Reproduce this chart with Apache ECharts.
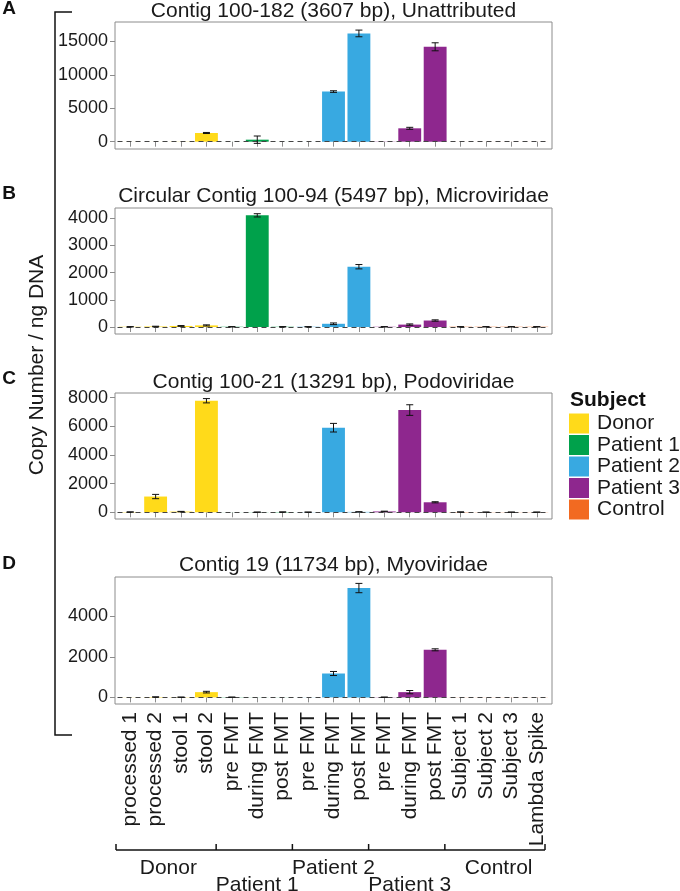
<!DOCTYPE html>
<html><head><meta charset="utf-8">
<script src="https://cdn.jsdelivr.net/npm/echarts@6/dist/echarts.min.js"></script>
<style>html,body{margin:0;padding:0;background:#fff}#c{width:680px;height:891px}</style>
</head><body><div id="c"></div>
<script>
// ---------- DATA ----------
const categories = ['processed 1','processed 2','stool 1','stool 2','pre FMT','during FMT','post FMT','pre FMT','during FMT','post FMT','pre FMT','during FMT','post FMT','Subject 1','Subject 2','Subject 3','Lambda Spike'];
const catGroup = ['Donor','Donor','Donor','Donor','Patient 1','Patient 1','Patient 1','Patient 2','Patient 2','Patient 2','Patient 3','Patient 3','Patient 3','Control','Control','Control','Control'];
const groups = ['Donor','Patient 1','Patient 2','Patient 3','Control'];
const panelTitles = ['Contig 100-182 (3607 bp), Unattributed','Circular Contig 100-94 (5497 bp), Microviridae','Contig 100-21 (13291 bp), Podoviridae','Contig 19 (11734 bp), Myoviridae'];
const panelLetters = ['A','B','C','D'];

const valuesA = [5, 5, 20, 1300, 5, 300, 5, 5, 7500, 16200, 30, 2000, 14200, 5, 5, 5, 5];
const errorsA = [0, 0, 0, 80, 0, 550, 0, 0, 120, 500, 0, 150, 600, 0, 0, 0, 0];
const valuesB = [10, 20, 40, 60, 10, 4110, 10, 10, 120, 2220, 10, 90, 240, 10, 10, 10, 10];
const errorsB = [5, 10, 15, 20, 5, 60, 5, 5, 30, 80, 5, 25, 25, 5, 5, 5, 5];
const valuesC = [20, 1100, 50, 7780, 5, 10, 20, 10, 5900, 30, 60, 7130, 700, 20, 10, 10, 10];
const errorsC = [10, 150, 15, 150, 0, 5, 5, 5, 300, 10, 20, 370, 40, 5, 5, 5, 5];
const valuesD = [5, 20, 10, 260, 10, 5, 5, 5, 1180, 5400, 10, 260, 2350, 5, 5, 5, 5];
const errorsD = [0, 5, 5, 40, 5, 0, 0, 0, 100, 230, 5, 80, 50, 0, 0, 0, 0];

const yTicksA = [0, 5000, 10000, 15000];
const yTicksB = [0, 1000, 2000, 3000, 4000];
const yTicksC = [0, 2000, 4000, 6000, 8000];
const yTicksD = [0, 2000, 4000];
const yRangeA = [-1095, 17910];
const yRangeB = [-256, 4380];
const yRangeC = [-466, 8320];
const yRangeD = [-326, 5946];

const groupSpans = [['Donor', 0, 3], ['Patient 1', 4, 6], ['Patient 2', 7, 9], ['Patient 3', 10, 12], ['Control', 13, 16]];
const yAxisTitle = 'Copy Number / ng DNA';
const legendTitle = 'Subject';

// ---------- STYLE / LAYOUT ----------
const groupColors = {'Donor':'#FFDA1A','Patient 1':'#00A14B','Patient 2':'#38A9E1','Patient 3':'#8E278E','Control':'#F26A21'};
const FONT = '"Liberation Sans", Arial, Helvetica, sans-serif';
const panelValues = [valuesA, valuesB, valuesC, valuesD];
const panelErrors = [errorsA, errorsB, errorsC, errorsD];
const panelTicks = [yTicksA, yTicksB, yTicksC, yTicksD];
const panelRanges = [yRangeA, yRangeB, yRangeC, yRangeD];
const gridTops = [22, 208, 393, 577];
const gridHeights = [127, 126, 126, 127];
const boxLeft = 115, boxWidth = 437;
const gridLeft = 117.5, gridWidth = 432;
const titleY = [11, 196, 382, 565];
const letterY = [8.5, 194, 379, 564];

const grids = [], xAxes = [], yAxes = [], series = [], graphics = [];

function errRender(params, api) {
  const i = api.value(0), v = api.value(1), e = api.value(2);
  if (!(e > 0)) return;
  const top = api.coord([i, v + e]), bot = api.coord([i, v - e]);
  const w = 3.5;
  const st = {stroke: '#111', lineWidth: 1};
  return {type: 'group', children: [
    {type: 'line', shape: {x1: top[0], y1: top[1], x2: bot[0], y2: bot[1]}, style: st},
    {type: 'line', shape: {x1: top[0] - w, y1: top[1], x2: top[0] + w, y2: top[1]}, style: st},
    {type: 'line', shape: {x1: bot[0] - w, y1: bot[1], x2: bot[0] + w, y2: bot[1]}, style: st}
  ]};
}

for (let p = 0; p < 4; p++) {
  const last = p === 3;
  grids.push({left: gridLeft, width: gridWidth, top: gridTops[p], height: gridHeights[p], show: false});
  xAxes.push({
    type: 'category', gridIndex: p, data: categories,
    axisLine: {show: false},
    axisTick: {show: true, alignWithLabel: true, length: 5, lineStyle: {color: '#8c8c8c'}},
    axisLabel: {show: last, rotate: 90, interval: 0, margin: 8, fontSize: 21, color: '#1a1a1a', fontFamily: FONT},
    splitLine: {show: false}
  });
  yAxes.push({
    type: 'value', gridIndex: p, min: panelRanges[p][0], max: panelRanges[p][1], offset: 2.5,
    axisLine: {show: false},
    axisTick: {show: true, length: 5, lineStyle: {color: '#8c8c8c'}, customValues: panelTicks[p]},
    axisLabel: {show: true, margin: 7, fontSize: 18, color: '#1a1a1a', fontFamily: FONT, customValues: panelTicks[p], formatter: v => String(v)},
    splitLine: {show: false}
  });
  groups.forEach((g, gi) => {
    const s = {
      type: 'bar', name: g, xAxisIndex: p, yAxisIndex: p,
      data: panelValues[p].map((v, i) => catGroup[i] === g ? v : '-'),
      barWidth: '90%', barGap: '-100%',
      itemStyle: {color: groupColors[g]},
      emphasis: {disabled: true}
    };
    if (gi === 0) {
      s.markLine = {silent: true, symbol: 'none', label: {show: false}, animation: false,
        lineStyle: {color: '#444', width: 1, type: [5, 4]}, data: [{yAxis: 0}]};
    }
    series.push(s);
  });
  series.push({
    type: 'custom', xAxisIndex: p, yAxisIndex: p, z: 5, clip: false,
    renderItem: errRender,
    data: panelValues[p].map((v, i) => [i, v, panelErrors[p][i]])
  });
  graphics.push({type: 'rect', silent: true, z: 10,
    shape: {x: boxLeft, y: gridTops[p], width: boxWidth, height: gridHeights[p]},
    style: {fill: 'none', stroke: '#8c8c8c', lineWidth: 1}});
  graphics.push({type: 'text', silent: true, x: boxLeft + boxWidth / 2, y: titleY[p],
    style: {text: panelTitles[p], font: '21px ' + FONT, fill: '#1a1a1a', textAlign: 'center', textVerticalAlign: 'middle'}});
  graphics.push({type: 'text', silent: true, x: 9, y: letterY[p],
    style: {text: panelLetters[p], font: 'bold 19px ' + FONT, fill: '#111', textAlign: 'center', textVerticalAlign: 'middle'}});
}

// y-axis title and bracket
graphics.push({type: 'text', silent: true, x: 37, y: 365, rotation: Math.PI / 2,
  style: {text: yAxisTitle, font: '21px ' + FONT, fill: '#1a1a1a', textAlign: 'center', textVerticalAlign: 'middle'}});
graphics.push({type: 'polyline', silent: true, shape: {points: [[72, 12], [55, 12], [55, 735], [72, 735]]},
  style: {stroke: '#111', lineWidth: 1.5, fill: 'none'}});

// legend title
graphics.push({type: 'text', silent: true, x: 570, y: 400,
  style: {text: legendTitle, font: 'bold 21px ' + FONT, fill: '#111', textAlign: 'left', textVerticalAlign: 'middle'}});

const chart = echarts.init(document.getElementById('c'), null, {renderer: 'canvas'});
chart.setOption({
  animation: false,
  backgroundColor: '#fff',
  grid: grids, xAxis: xAxes, yAxis: yAxes, series: series,
  legend: {
    data: groups, orient: 'vertical', left: 569, top: 413, padding: 0,
    icon: 'rect', itemWidth: 20, itemHeight: 20, itemGap: 0.5, selectedMode: false,
    textStyle: {fontSize: 21, lineHeight: 20, color: '#1a1a1a', fontFamily: FONT, padding: [0, 0, 0, 3]}
  },
  graphic: graphics
});

// group bracket under the x labels
const bracketY = 850;
const pts = [];
const edges = [];
groupSpans.forEach(([name, a, b], k) => {
  const xa = chart.convertToPixel({xAxisIndex: 3}, a);
  const xb = chart.convertToPixel({xAxisIndex: 3}, b);
  const half = gridWidth / categories.length / 2;
  const left = k === 0 ? boxLeft + 1 : xa - half - 3;
  const right = k === groupSpans.length - 1 ? boxLeft + boxWidth - 7 : xb + half - 3;
  if (k === 0) edges.push(left);
  edges.push(right);
  pts.push({name, center: (xa + xb) / 2, low: k % 2 === 1});
});
const extra = [];
extra.push({type: 'line', silent: true, shape: {x1: edges[0], y1: bracketY, x2: edges[edges.length - 1], y2: bracketY}, style: {stroke: '#111', lineWidth: 1.5}});
edges.forEach(x => extra.push({type: 'line', silent: true, shape: {x1: x, y1: bracketY - 6, x2: x, y2: bracketY}, style: {stroke: '#111', lineWidth: 1.5}}));
pts.forEach(p => extra.push({type: 'text', silent: true, x: p.center, y: p.low ? 885 : 868,
  style: {text: p.name, font: '21px ' + FONT, fill: '#1a1a1a', textAlign: 'center', textVerticalAlign: 'middle'}}));
chart.setOption({graphic: graphics.concat(extra)});
</script>
</body></html>
